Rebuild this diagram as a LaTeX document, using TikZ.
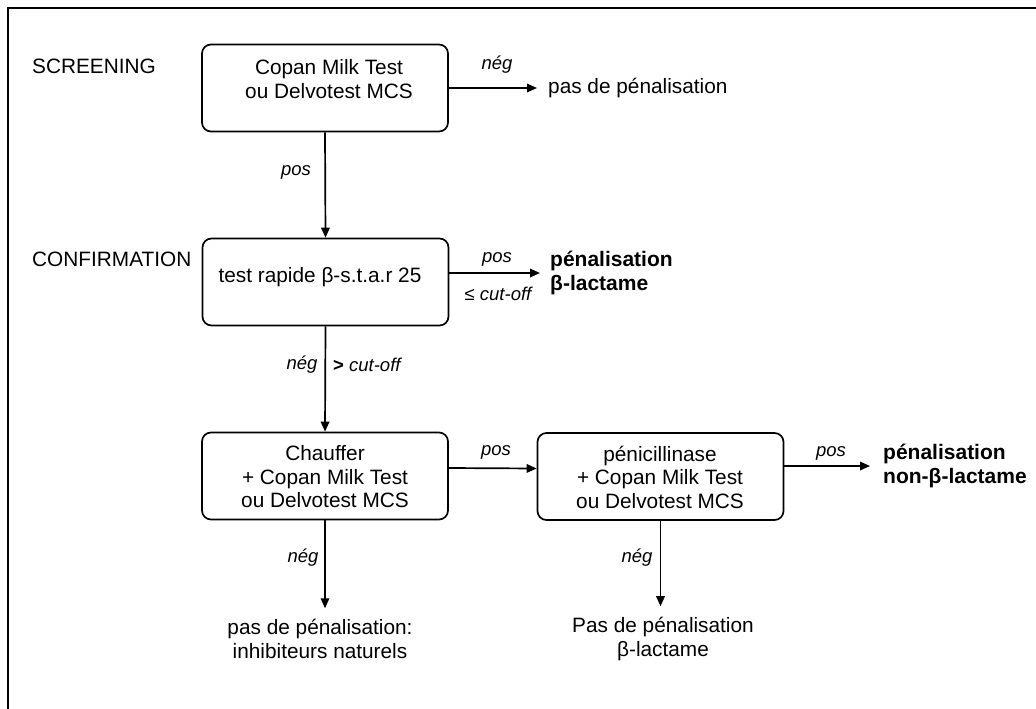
\documentclass[tikz,border=0pt]{standalone}
\usepackage{fontspec}
\setmainfont{Liberation Sans}
\usetikzlibrary{arrows.meta}
\begin{document}
\begin{tikzpicture}[x=1pt,y=-1pt,
  every node/.style={font=\fontsize{20.8}{23.5}\selectfont, inner sep=0pt},
  box/.style={draw, line width=1.7pt, rounded corners=9pt, minimum width=246pt, minimum height=87pt},
  txt/.style={align=center},
  lab/.style={font=\fontsize{18.5}{21}\selectfont\itshape},
  bld/.style={align=left, font=\fontsize{21}{24}\selectfont\bfseries},
  arr/.style={line width=1.7pt, -{Triangle[length=10pt,width=8.5pt]}},
  frame/.style={line width=2pt}]
\useasboundingbox (0,0) rectangle (1036,709);
% frame
\coordinate (fbl) at (8,709);
\coordinate (ftl) at (8,8);
\coordinate (ftr) at (1036,8);
\draw[frame] (fbl) -- (ftl) -- (ftr);
% side headings
\node[anchor=west] (s1) at (32,66) {SCREENING};
\node[anchor=west] (s2) at (32,259) {CONFIRMATION};
% boxes
\node[box] (b1) at (325,88) {};
\node[txt] (t1) at (329,79) {Copan Milk Test\\ou Delvotest MCS};
\node[box] (b2) at (325.5,282) {};
\node (t2) at (320,277) {test rapide β-s.t.a.r 25};
\node[box] (b3) at (325,476) {};
\node[txt] (t3) at (325,477) {Chauffer\\+ Copan Milk Test\\ou Delvotest MCS};
\node[box] (b4) at (660.5,476.5) {};
\node[txt] (t4) at (660,477) {pénicillinase\\+ Copan Milk Test\\ou Delvotest MCS};
% outcomes
\node[anchor=west] (n1) at (548,88) {pas de pénalisation};
\node[bld,anchor=west] (n2) at (550,273) {pénalisation\\β-lactame};
\node[bld,anchor=west] (n5) at (883,466) {pénalisation\\non-β-lactame};
\node[txt] (n6) at (320,639) {pas de pénalisation:\\inhibiteurs naturels};
\node[txt] (n7) at (663,639) {Pas de pénalisation\\β-lactame};
% connectors
\draw[arr, shorten >=11pt] (b1.east) -- (n1.west);
\node[lab] (l1) at (497,65) {nég};
\draw[arr] (b1.south) -- (b2.north);
\node[lab] (l2) at (296,172) {pos};
\draw[arr, shorten >=10pt] (b2.east |- n2.west) -- (n2.west);
\node[lab] (l3) at (497,259) {pos};
\node[lab] (l4) at (498,294) {{\upshape ≤} cut-off};
\draw[arr] (b2.south) -- (b3.north);
\node[lab] (l5) at (302,365) {nég};
\node[lab,anchor=west] (l6) at (333,365) {{\upshape\bfseries >} cut-off};
\draw[arr] ([yshift=8pt]b3.east) -- ([yshift=8pt]b4.west);
\node[lab] (l7) at (496,452) {pos};
\draw[arr, shorten >=13pt] (b4.east |- n5.west) -- (n5.west);
\node[lab] (l8) at (831,453) {pos};
\draw[arr, shorten >=11pt] (b3.south) -- (b3.south |- n6.north);
\node[lab] (l9) at (303,558) {nég};
\draw[arr, shorten >=11pt] (b4.south) -- (b4.south |- n7.north);
\node[lab] (l10) at (637,558) {nég};
\end{tikzpicture}
\end{document}
